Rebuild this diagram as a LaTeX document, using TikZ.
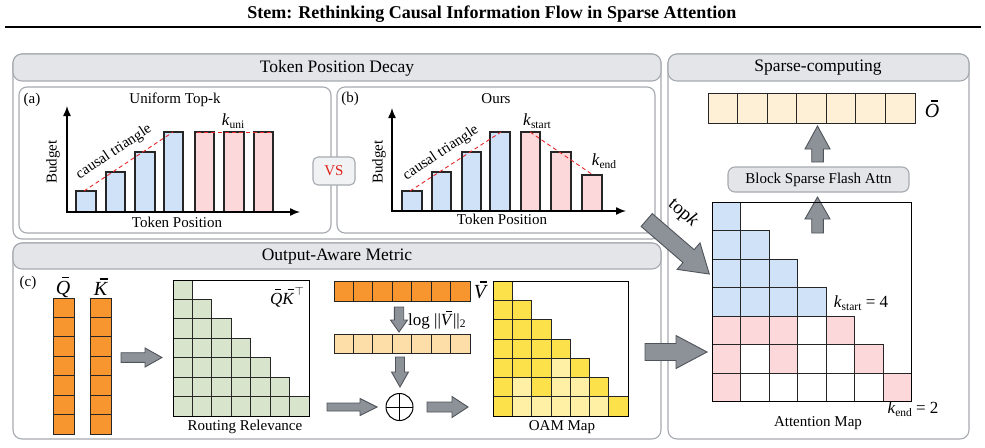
\documentclass[tikz,border=0pt]{standalone}
\usepackage{fontspec}
\setmainfont{Liberation Serif}
\usetikzlibrary{arrows.meta,calc}
\definecolor{pborder}{HTML}{A6AAB0}
\definecolor{hdrfill}{HTML}{E3E5E8}
\definecolor{cblue}{HTML}{CFE2F8}
\definecolor{cpink}{HTML}{FDD8DA}
\definecolor{ccream}{HTML}{FDF0D6}
\definecolor{corange}{HTML}{F7962F}
\definecolor{clorange}{HTML}{FDDDA8}
\definecolor{cgreen}{HTML}{D8E4CB}
\definecolor{cyellow}{HTML}{FDE14A}
\definecolor{clyellow}{HTML}{FFF0A6}
\definecolor{agray}{HTML}{8D9299}
\definecolor{aborder}{HTML}{4F545A}
\definecolor{vsred}{HTML}{E0201B}
\definecolor{dred}{HTML}{E8262A}
\newcommand{\bodyfont}{\fontsize{15}{18}\selectfont}
\newcommand{\hdrfont}{\fontsize{17.5}{21}\selectfont}
\newcommand{\titlefont}{\fontsize{18}{22}\selectfont\bfseries}
\newcommand{\mathfnt}{\fontsize{17}{20}\selectfont}
\newcommand{\bigfnt}{\fontsize{20}{24}\selectfont}
\newcommand{\lsub}[1]{\raisebox{-0.3ex}{\fontsize{11.5}{12}\selectfont #1}}
\newcommand{\ovl}[2][0.3em]{\mbox{\rlap{\hspace{#1}\rule[0.8em]{0.36em}{0.065em}}\textit{#2}}}
\newcommand{\blockarrow}[6]{%
  \begin{scope}[shift={#1},rotate=#2]
    \draw[garrow] (0,#4) -- ({#3-#6},#4) -- ({#3-#6},#5) -- (#3,0) -- ({#3-#6},-#5) -- ({#3-#6},-#4) -- (0,-#4) -- cycle;
  \end{scope}}
\begin{document}
\begin{tikzpicture}[x=1pt,y=-1pt,
  panel/.style={draw=pborder, line width=1.1pt, rounded corners=9pt, fill=white},
  hdr/.style={draw=pborder, line width=1.1pt, rounded corners=9pt, fill=hdrfill},
  subpanel/.style={draw=pborder, line width=1.1pt, rounded corners=8pt, fill=white},
  cell/.style={draw=black!85, line width=0.8pt},
  bar/.style={draw=black!85, line width=1.1pt},
  axis/.style={line width=1.4pt, -{Latex[length=10pt,width=8pt]}},
  reddash/.style={draw=dred, line width=0.9pt, dash pattern=on 4pt off 3pt},
  garrow/.style={draw=aborder, fill=agray, line width=0.9pt, line join=miter},
  txt/.style={font=\bodyfont, inner sep=0pt},
  hdrtxt/.style={font=\hdrfont, inner sep=0pt},
  mtxt/.style={font=\mathfnt, inner sep=0pt},
  btxt/.style={font=\bigfnt, inner sep=0pt},
]
\useasboundingbox (0,0) rectangle (985,447);
\fill[white] (0,0) rectangle (985,447);

% ---------- title ----------
\node[font=\titlefont, inner sep=0pt] (title) at (492,14) {Stem: Rethinking Causal Information Flow in Sparse Attention};
\draw[line width=1.8pt] (5,27) -- (981,27);

% ---------- panels ----------
\draw[panel] (13,54) rectangle (661,239);
\draw[hdr] (13,54) rectangle (661,81);
\node[hdrtxt] (tpd) at (337,68) {Token Position Decay};
\draw[subpanel] (19,87) rectangle (331,233);
\draw[subpanel] (337,87) rectangle (655,233);

\draw[panel] (13,243) rectangle (661,439);
\draw[hdr] (13,243) rectangle (661,269);
\node[hdrtxt] (oamh) at (337,257) {Output-Aware Metric};

\draw[panel] (668,54) rectangle (969,439);
\draw[hdr] (668,54) rectangle (969,81);
\node[hdrtxt] (sch) at (818,68) {Sparse-computing};

% ---------- (a) uniform ----------
\node[txt] (la) at (32,100) {(a)};
\node[txt] (ta) at (175,100) {Uniform Top-k};
\foreach \xa/\xb/\yt in {76/96/191,106/125/172,135/155/152,164/183/132}
  \draw[bar,fill=cblue] (\xa,212) rectangle (\xb,\yt);
\foreach \xa/\xb in {195/214,224/244,254/273}
  \draw[bar,fill=cpink] (\xa,212) rectangle (\xb,132);
\draw[axis] (67,212.5) -- (67,106);
\draw[axis] (66.3,212) -- (300,212);
\draw[reddash] (84,191) -- (173,132);
\draw[reddash] (197,132) -- (271,132);
\node[txt,rotate=33.5] (cta) at (114,152) {causal triangle};
\node[mtxt] (kuni) at (233,121) {\textit{k}\lsub{uni}};
\node[txt,rotate=90] (bua) at (53,162) {Budget};
\node[txt] (tpa) at (177,222) {Token Position};

% ---------- VS ----------
\node[draw=pborder, line width=1.1pt, fill=hdrfill!50, rounded corners=5pt,
      minimum width=42pt, minimum height=28pt, inner sep=0pt,
      font=\bodyfont, text=vsred] (vs) at (334,171) {VS};

% ---------- (b) ours ----------
\node[txt] (lb) at (350,99) {(b)};
\node[txt] (tb) at (496,99) {Ours};
\foreach \xa/\xb/\yt in {402/422/191,432/451/172,462/481/152,490/510/132}
  \draw[bar,fill=cblue] (\xa,211) rectangle (\xb,\yt);
\foreach \xa/\xb/\yt in {521/540/132,551/571/152,582/602/175}
  \draw[bar,fill=cpink] (\xa,211) rectangle (\xb,\yt);
\draw[axis] (392,211.5) -- (392,108);
\draw[axis] (391.3,211) -- (626,211);
\draw[reddash] (410,191) -- (501,132);
\draw[reddash] (530,132) -- (593,175);
\node[txt,rotate=33.5] (ctb) at (441,153) {causal triangle};
\node[mtxt] (kst) at (537,121) {\textit{k}\lsub{start}};
\node[mtxt] (ken) at (604,161) {\textit{k}\lsub{end}};
\node[txt,rotate=90] (bub) at (379,162) {Budget};
\node[txt] (tpb) at (502,219) {Token Position};

% ---------- (c) output-aware metric ----------
\node[txt] (lc) at (28,283) {(c)};
\node[btxt] (qb) at (63,287) {\ovl{Q}};
\node[btxt] (kb) at (101,287) {\ovl[0.32em]{K}};
\foreach \i in {0,...,6}{
  \draw[cell,fill=corange] (53,{298+\i*19.43}) rectangle ++(21,19.43);
  \draw[cell,fill=corange] (90,{298+\i*19.43}) rectangle ++(21,19.43);
}
% routing relevance
\foreach \r in {1,...,7}{\foreach \c in {1,...,\r}{
  \draw[cell,fill=cgreen] ({173+(\c-1)*19.43},{280+(\r-1)*19.43}) rectangle ++(19.43,19.43);}}
\draw[line width=0.8pt] (173,280) rectangle (309,416);
\node[mtxt] (qk) at (287,297) {\ovl{Q}\ovl[0.32em]{K}\raisebox{0.5em}{\fontsize{13}{14}\selectfont$\top$}};
\node[txt] (rr) at (245,427) {Routing Relevance};

% V bars
\foreach \i in {0,...,6}{
  \draw[cell,fill=corange] ({334+\i*19.43},281) rectangle ++(19.43,20);
  \draw[cell,fill=clorange] ({334+\i*19.43},334) rectangle ++(19.43,19.5);
}
\node[btxt] (vb) at (481,290) {\ovl[0.3em]{V}};
\node[mtxt, anchor=west] (lv) at (408,320) {log ||\ovl[0.3em]{V}||\lsub{2}};

% oplus
\draw[line width=1pt] (399.5,407) circle (13.5);
\draw[line width=1pt] (386,407) -- (413,407) (399.5,393.5) -- (399.5,420.5);
\coordinate (oplus) at (399.5,407);

% OAM map
\foreach \r in {1,...,7}{\foreach \c in {1,...,\r}{
  \draw[cell,fill=cyellow] ({493+(\c-1)*19.3},{281+(\r-1)*19.3}) rectangle ++(19.3,19.3);}}
\foreach \r/\c in {5/4,6/2,6/4,6/5,7/2,7/3,7/4,7/5,7/6}
  \draw[cell,fill=clyellow] ({493+(\c-1)*19.3},{281+(\r-1)*19.3}) rectangle ++(19.3,19.3);
\draw[line width=0.8pt] (493,281) rectangle (628,416);
\node[txt] (om) at (562,427) {OAM Map};

% small arrows in (c)
\blockarrow{(121,357.5)}{0}{41}{4.8}{9.5}{17}
\blockarrow{(399,307)}{-90}{25}{4.7}{8.5}{12}
\blockarrow{(400,357)}{-90}{30}{4.5}{8.5}{15}
\blockarrow{(327,407)}{0}{50}{4}{8.5}{17}
\blockarrow{(427,407)}{0}{41}{5}{10.5}{16}

% ---------- sparse computing ----------
\foreach \i in {0,...,6}
  \draw[cell,fill=ccream] ({708+\i*29.57},93) rectangle ++(29.57,30);
\node[btxt] (ob) at (932,109) {\ovl[0.3em]{O}};
\node[draw=pborder, line width=1.1pt, fill=hdrfill, rounded corners=7pt,
      minimum width=181pt, minimum height=25pt, inner sep=0pt, font=\bodyfont] (bsfa) at (818.5,179.5) {Block Sparse Flash Attn};
\blockarrow{(817.5,162)}{90}{36}{5.8}{12.5}{23}
\blockarrow{(817.5,233)}{90}{36}{5.8}{12.5}{22}

% attention map
\foreach \r in {1,...,4}{\foreach \c in {1,...,\r}{
  \draw[cell,fill=cblue] ({712+(\c-1)*28.5},{202+(\r-1)*28.5}) rectangle ++(28.5,28.5);}}
\foreach \r/\c/\col in {5/1/cpink,5/2/cpink,5/3/cpink,5/4/white,5/5/cpink,
  6/1/cpink,6/2/white,6/3/cpink,6/4/white,6/5/white,6/6/cpink,
  7/1/cpink,7/2/white,7/3/white,7/4/white,7/5/white,7/6/white,7/7/cpink}
  \draw[cell,fill=\col] ({712+(\c-1)*28.5},{202+(\r-1)*28.5}) rectangle ++(28.5,28.5);
\draw[line width=0.8pt] (712,202) rectangle (911.5,401.5);
\node[mtxt] (kst4) at (861,303) {\textit{k}\lsub{start} = 4};
\node[mtxt] (ken2) at (913,409) {\textit{k}\lsub{end} = 2};
\node[txt] (am) at (818,423) {Attention Map};

% big arrows
\blockarrow{(645,352)}{0}{62}{8.5}{16.5}{31}
\blockarrow{(646.7,220)}{-40.8}{82.7}{8.5}{17.5}{27.4}
\node[font=\fontsize{19}{22}\selectfont, inner sep=0pt, rotate=-41] (topk) at (683,213) {top\textit{k}};
\end{tikzpicture}
\end{document}
